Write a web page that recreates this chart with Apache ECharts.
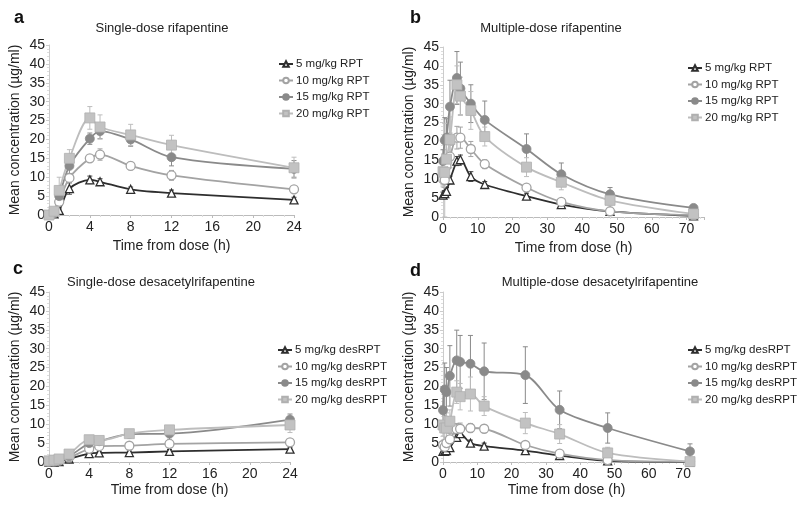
<!DOCTYPE html>
<html><head><meta charset="utf-8">
<script src="https://cdn.jsdelivr.net/npm/echarts@6/dist/echarts.min.js"></script>
<style>html,body{margin:0;padding:0;background:#fff}#c{width:800px;height:507px}</style>
</head><body><div id="c"></div>
<script>
// ---- data ----
const doseNamesRPT = ['5 mg/kg RPT','10 mg/kg RPT','15 mg/kg RPT','20 mg/kg RPT'];
const doseNamesDes = ['5 mg/kg desRPT','10 mg/kg desRPT','15 mg/kg desRPT','20 mg/kg desRPT'];
const singleTimes = [0,0.5,1,2,4,5,8,12,24];
const multiTimes = [0,0.5,1,2,4,5,8,12,24,34,48,72];
const xTicksSingle = [0,4,8,12,16,20,24];
const xTicksMulti = [0,10,20,30,40,50,60,70];

// panel a: single-dose rifapentine
const a5 = [0,0.3,1.2,7.0,9.3,8.8,6.8,5.8,4.0];
const a10 = [0,0.6,3.5,9.8,15.0,16.0,13.0,10.5,6.8];
const a15 = [0,0.8,5.0,13.0,20.2,22.2,20.0,15.3,12.2];
const a20 = [0,1.0,6.5,15.0,25.7,23.3,21.2,18.5,12.5];
const a5sd = [0,0.2,0.4,1.5,1.0,0.8,0.6,0.8,0.7];
const a10sd = [0,0.3,1.0,1.0,0.8,1.5,1.0,1.3,0.6];
const a15sd = [0,0.4,1.5,2.0,1.5,2.0,1.8,2.3,2.2];
const a20sd = [0,0.5,3.5,2.3,3.0,3.2,2.8,2.6,2.8];

// panel b: multiple-dose rifapentine
const b5 = [5.8,6.2,6.8,9.8,14.8,15.2,10.7,8.6,5.5,3.3,1.5,0.3];
const b10 = [10.0,9.8,13.5,16.0,21.0,21.0,18.0,14.0,7.8,4.0,1.5,0.5];
const b15 = [14.8,20.3,21.0,29.2,36.8,34.0,30.0,25.7,18.0,11.3,6.0,2.4];
const b20 = [12.0,11.8,15.3,20.5,35.0,32.0,28.2,21.3,13.2,9.2,4.4,0.8];
const b5sd = [0.8,0.8,1.0,1.0,1.2,1.2,1.3,0.8,0.8,0.6,0.5,0.2];
const b10sd = [1.5,2.0,3.0,3.0,3.0,2.8,2.0,1.2,0.8,0.6,0.4,0.2];
const b15sd = [3.0,6.0,5.0,7.0,7.0,7.0,5.0,5.0,4.0,3.0,1.8,0.6];
const b20sd = [4.0,13.0,6.0,6.0,5.0,5.0,5.0,2.5,2.5,2.0,1.5,0.5];

// panel c: single-dose desacetylrifapentine
const c5 = [0,0,0.1,0.8,2.2,2.4,2.5,2.8,3.4];
const c10 = [0.1,0.2,0.4,1.2,3.5,4.2,4.3,4.8,5.2];
const c15 = [0.2,0.3,0.6,1.5,5.0,5.5,7.4,7.5,11.2];
const c20 = [0.3,0.5,0.8,2.1,5.9,5.7,7.5,8.5,9.8];
const c5sd = [0,0,0.1,0.3,0.4,0.4,0.4,0.5,0.5];
const c10sd = [0,0.1,0.2,0.4,0.6,0.6,0.5,0.6,0.6];
const c15sd = [0,0.1,0.2,0.5,1.0,0.8,0.6,1.5,1.5];
const c20sd = [0.1,0.2,0.3,0.6,1.0,0.8,0.6,1.0,2.0];

// panel d: multiple-dose desacetylrifapentine
const d5 = [2.8,2.8,3.0,3.8,6.5,7.5,5.0,4.2,3.0,1.7,0.3,0];
const d10 = [4.5,4.0,5.0,6.0,8.7,8.8,9.0,8.8,4.5,2.2,0.5,0.1];
const d15 = [13.7,19.2,18.5,22.8,26.9,26.5,26.0,24.0,23.0,13.8,9.0,2.8];
const d20 = [9.8,9.0,9.0,10.8,18.5,17.3,18.0,14.8,10.3,7.4,2.4,0.1];
const d5sd = [0.5,0.5,0.5,1.0,1.0,1.0,0.8,0.8,0.6,0.5,0.2,0];
const d10sd = [1.0,1.0,1.5,1.5,1.5,1.5,1.2,1.0,0.8,0.5,0.3,0.1];
const d15sd = [5.0,7.0,6.5,8.0,8.0,7.0,7.5,7.5,7.5,5.0,4.0,2.0];
const d20sd = [3.0,3.0,4.0,3.0,3.0,3.5,4.5,2.5,2.8,2.5,1.5,0.2];

// ---- styles ----
const lineColors = ['#2e2e2e','#a3a3a3','#8a8a8a','#bdbdbd'];
const symbols = ['triangle','circle','circle','rect'];
const symFill = ['#ffffff','#ffffff','#8a8a8a','#c2c2c2'];
const symSize = [8,9,9,10];
const FONT = '"Liberation Sans", Arial, sans-serif';

const panels = [
  {times: singleTimes, means:[a5,a10,a15,a20], sds:[a5sd,a10sd,a15sd,a20sd], names: doseNamesRPT,
   grid:{left:49, top:45, width:245, height:170}, max:24, interval:4, legend:{left:278, top:58},
   title:'Single-dose rifapentine', tx:157, ty:17, label:'a', lx:9, ly:4, nameGap:24},
  {times: multiTimes, means:[b5,b10,b15,b20], sds:[b5sd,b10sd,b15sd,b20sd], names: doseNamesRPT,
   grid:{left:443, top:47, width:261, height:170}, max:75, interval:10, legend:{left:687, top:62},
   title:'Multiple-dose rifapentine', tx:546, ty:17, label:'b', lx:405, ly:4, nameGap:24},
  {times: singleTimes, means:[c5,c10,c15,c20], sds:[c5sd,c10sd,c15sd,c20sd], names: doseNamesDes,
   grid:{left:49, top:292, width:241, height:170}, max:24, interval:4, legend:{left:277, top:344},
   title:'Single-dose desacetylrifapentine', tx:156, ty:271, label:'c', lx:8, ly:255, nameGap:21},
  {times: multiTimes, means:[d5,d10,d15,d20], sds:[d5sd,d10sd,d15sd,d20sd], names: doseNamesDes,
   grid:{left:443, top:292, width:247, height:170}, max:72, interval:10, legend:{left:687, top:344},
   title:'Multiple-dose desacetylrifapentine', tx:595, ty:271, label:'d', lx:405, ly:257, nameGap:21}
];

const option = {animation:false, backgroundColor:'#fff', grid:[], xAxis:[], yAxis:[], series:[], legend:[], title:[]};

panels.forEach((p, pi) => {
  option.grid.push(Object.assign({containLabel:false}, p.grid));
  option.xAxis.push({
    type:'value', gridIndex:pi, min:0, max:p.max, interval:p.interval,
    name:'Time from dose (h)', nameLocation:'middle', nameGap:p.nameGap,
    nameTextStyle:{fontFamily:FONT, fontSize:14, color:'#222'},
    axisLine:{show:true, onZero:false, lineStyle:{color:'#bbb', width:1}},
    axisTick:{show:true, length:3, lineStyle:{color:'#bbb'}},
    minorTick:{show:true, splitNumber:p.interval===4?4:5, length:2, lineStyle:{color:'#ddd'}},
    axisLabel:{fontFamily:FONT, fontSize:14, color:'#222', margin:5, showMaxLabel: p.max % p.interval === 0},
    splitLine:{show:false}
  });
  option.yAxis.push({
    type:'value', gridIndex:pi, min:0, max:45, interval:5,
    name:'Mean concentration (\u00b5g/ml)', nameLocation:'middle', nameGap:27,
    nameTextStyle:{fontFamily:FONT, fontSize:14, color:'#222'},
    axisLine:{show:true, lineStyle:{color:'#ccc', width:1}},
    axisTick:{show:true, length:3, lineStyle:{color:'#ccc'}},
    minorTick:{show:true, splitNumber:5, length:2, lineStyle:{color:'#ddd'}},
    axisLabel:{fontFamily:FONT, fontSize:14, color:'#222', margin:4},
    splitLine:{show:false}
  });
  option.title.push({text:p.title, left:p.tx, top:p.ty, textAlign:'center',
    textStyle:{fontFamily:FONT, fontSize:13, fontWeight:'normal', color:'#222'}});
  option.title.push({text:p.label, left:p.lx, top:p.ly,
    textStyle:{fontFamily:FONT, fontSize:18, fontWeight:'bold', color:'#111'}});
  option.legend.push({
    left:p.legend.left, top:p.legend.top, orient:'vertical', padding:0,
    itemWidth:14, itemHeight:7, itemGap:4.5,
    textStyle:{fontFamily:FONT, fontSize:11.5, color:'#222', padding:[0,0,0,-2]},
    data:p.names.map(n => ({name: n + '\u200b'.repeat(pi)}))
  });
  p.means.forEach((m, si) => {
    const nm = p.names[si] + '\u200b'.repeat(pi);
    option.series.push({
      type:'custom', xAxisIndex:pi, yAxisIndex:pi, z:1, silent:true,
      data:p.times.map((t,i) => [t, Math.max(0, m[i]-p.sds[si][i]), m[i]+p.sds[si][i]]),
      renderItem:(params, api) => {
        const x = api.value(0);
        const lo = api.coord([x, api.value(1)]);
        const hi = api.coord([x, api.value(2)]);
        const w = 2.5;
        const st = {stroke: si===0 ? '#444' : lineColors[si], lineWidth:1};
        return {type:'group', children:[
          {type:'line', shape:{x1:lo[0], y1:lo[1], x2:hi[0], y2:hi[1]}, style:st},
          {type:'line', shape:{x1:hi[0]-w, y1:hi[1], x2:hi[0]+w, y2:hi[1]}, style:st},
          {type:'line', shape:{x1:lo[0]-w, y1:lo[1], x2:lo[0]+w, y2:lo[1]}, style:st}
        ]};
      }
    });
    option.series.push({
      type:'line', name:nm, xAxisIndex:pi, yAxisIndex:pi, z:3, smooth:0.3,
      data:p.times.map((t,i) => [t, m[i]]),
      symbol:symbols[si], symbolSize:symSize[si], showSymbol:true,
      lineStyle:{color:lineColors[si], width:1.8},
      itemStyle:{color:symFill[si], borderColor: si===3 ? '#b0b0b0' : lineColors[si], borderWidth: si>=2 ? 0.8 : 1.3},
      color:lineColors[si]
    });
  });
});

option.legend.forEach(l => { l.formatter = n => n.replace(/\u200b/g,''); });

const chart = echarts.init(document.getElementById('c'), null, {renderer:'canvas'});
chart.setOption(option);
</script></body></html>
